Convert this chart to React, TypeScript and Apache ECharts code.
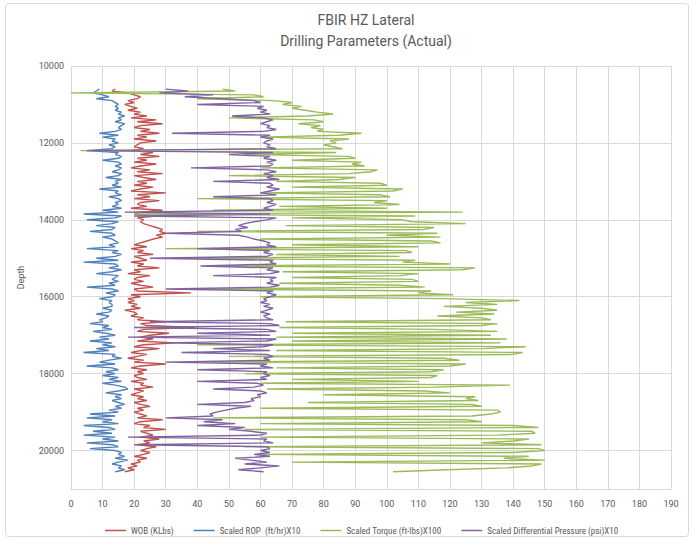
import React, { useEffect, useRef } from "react";
import * as echarts from "echarts";

const depths = [
  10600, 10650, 10700, 10750, 10800, 10850, 10900, 10950, 11000, 11050,
  11100, 11150, 11200, 11250, 11300, 11350, 11400, 11450, 11500, 11550,
  11600, 11650, 11700, 11750, 11800, 11850, 11900, 11950, 12000, 12050,
  12100, 12150, 12200, 12250, 12300, 12350, 12400, 12450, 12500, 12550,
  12600, 12650, 12700, 12750, 12800, 12850, 12900, 12950, 13000, 13050,
  13100, 13150, 13200, 13250, 13300, 13350, 13400, 13450, 13500, 13550,
  13600, 13650, 13700, 13750, 13800, 13850, 13900, 13950, 14000, 14050,
  14100, 14150, 14200, 14250, 14300, 14350, 14400, 14450, 14500, 14550,
  14600, 14650, 14700, 14750, 14800, 14850, 14900, 14950, 15000, 15050,
  15100, 15150, 15200, 15250, 15300, 15350, 15400, 15450, 15500, 15550,
  15600, 15650, 15700, 15750, 15800, 15850, 15900, 15950, 16000, 16050,
  16100, 16150, 16200, 16250, 16300, 16350, 16400, 16450, 16500, 16550,
  16600, 16650, 16700, 16750, 16800, 16850, 16900, 16950, 17000, 17050,
  17100, 17150, 17200, 17250, 17300, 17350, 17400, 17450, 17500, 17550,
  17600, 17650, 17700, 17750, 17800, 17850, 17900, 17950, 18000, 18050,
  18100, 18150, 18200, 18250, 18300, 18350, 18400, 18450, 18500, 18550,
  18600, 18650, 18700, 18750, 18800, 18850, 18900, 18950, 19000, 19050,
  19100, 19150, 19200, 19250, 19300, 19350, 19400, 19450, 19500, 19550,
  19600, 19650, 19700, 19750, 19800, 19850, 19900, 19950, 20000, 20050,
  20100, 20150, 20200, 20250, 20300, 20350, 20400, 20450, 20500, 20550,
];

const wob = [
  14, 13, 18, 20, 22, 21, 18, 20, 17, 19,
  21, 18, 22, 20, 24, 19, 27, 21, 29, 22,
  20, 25, 22, 28, 21, 24, 20, 27, 22, 21,
  20, 23, 19, 26, 22, 28, 21, 24, 20, 27,
  22, 19, 25, 21, 29, 20, 23, 27, 21, 24,
  20, 26, 22, 19, 30, 21, 25, 20, 28, 22,
  21, 24, 19, 29, 22, 20, 27, 21, 23, 22,
  23, 25, 27, 29, 28, 30, 27, 29, 26, 24,
  22, 20, 24, 19, 23, 21, 26, 20, 22, 24,
  19, 23, 21, 28, 20, 22, 18, 25, 21, 20,
  23, 19, 22, 26, 20, 21, 38, 19, 22, 18,
  20, 18, 21, 19, 22, 17, 20, 21, 19, 23,
  21, 30, 22, 24, 39, 23, 21, 31, 25, 22,
  26, 21, 33, 23, 20, 28, 22, 19, 24, 21,
  18, 23, 20, 30, 22, 19, 24, 21, 23, 20,
  21, 24, 19, 23, 22, 26, 20, 23, 21, 19,
  23, 21, 24, 20, 22, 25, 21, 23, 20, 22,
  24, 21, 29, 22, 20, 25, 23, 30, 22, 24,
  26, 22, 28, 23, 25, 21, 27, 24, 22, 25,
  23, 20, 24, 21, 22, 19, 21, 18, 20, 17,
];

const rop = [
  9, 8, 7, 10, 12, 8, 13, 14, 15, 14,
  15, 14, 16, 15, 17, 15, 16, 14, 17, 16,
  15, 16, 14, 9, 15, 10, 14, 13, 15, 12,
  14, 13, 5, 15, 14, 16, 15, 10, 15, 16,
  14, 16, 15, 13, 16, 15, 11, 16, 14, 15,
  13, 16, 9, 15, 14, 16, 12, 15, 16, 14,
  15, 13, 16, 10, 15, 4, 16, 14, 5, 15,
  13, 8, 14, 13, 6, 13, 14, 10, 13, 14,
  15, 12, 14, 5, 15, 13, 16, 14, 8, 15,
  4, 14, 15, 12, 16, 13, 8, 15, 14, 13,
  15, 12, 14, 5, 13, 15, 11, 14, 13, 9,
  13, 12, 13, 13, 10, 13, 12, 8, 12, 11,
  9, 10, 6, 12, 10, 13, 7, 11, 14, 9,
  12, 6, 13, 10, 14, 8, 12, 4, 14, 13,
  16, 12, 9, 14, 5, 13, 15, 11, 14, 10,
  15, 12, 16, 10, 14, 17, 18, 15, 11, 16,
  14, 16, 13, 15, 17, 14, 16, 12, 15, 6,
  14, 5, 13, 10, 15, 4, 12, 14, 7, 13,
  4, 14, 10, 15, 5, 13, 15, 6, 14, 16,
  15, 17, 14, 18, 15, 13, 16, 15, 17, 14,
];

const torque = [
  48, 52, 0, 58, 61, 40, 64, 70, 67, 73,
  70, 74, 78, 83, 75, 50, 77, 80, 72, 79,
  76, 80, 78, 92, 85, 60, 88, 82, 84, 80,
  83, 86, 3, 84, 55, 88, 90, 70, 92, 89,
  93, 60, 97, 95, 88, 50, 90, 85, 65, 98,
  100, 70, 105, 102, 60, 98, 101, 40, 100, 96,
  104, 66, 100, 45, 124, 20, 109, 70, 105, 108,
  125, 68, 115, 112, 40, 116, 100, 117, 60, 114,
  117, 70, 110, 30, 106, 108, 65, 104, 35, 109,
  105, 120, 45, 128, 124, 67, 110, 104, 70, 108,
  110, 66, 104, 112, 40, 114, 110, 121, 60, 118,
  142, 125, 135, 118, 130, 135, 122, 134, 116, 130,
  133, 68, 135, 130, 66, 115, 135, 70, 133, 65,
  138, 70, 136, 40, 144, 130, 65, 143, 140, 50,
  118, 123, 45, 125, 120, 65, 118, 114, 55, 116,
  114, 70, 110, 60, 139, 115, 62, 112, 120, 80,
  128, 125, 129, 75, 127, 130, 60, 135, 136, 133,
  127, 45, 125, 130, 60, 140, 148, 55, 146, 147,
  135, 60, 145, 140, 130, 149, 55, 148, 150, 140,
  60, 145, 137, 150, 70, 149, 146, 138, 119, 102,
];

const diffP = [
  30, 37, 28, 45, 36, 48, 58, 60, 40, 61,
  59, 62, 60, 63, 51, 61, 64, 62, 60, 63,
  62, 65, 61, 32, 63, 60, 64, 62, 61, 63,
  62, 65, 5, 64, 50, 63, 61, 65, 62, 64,
  63, 38, 62, 65, 61, 64, 62, 66, 45, 63,
  64, 62, 66, 63, 60, 65, 45, 63, 64, 62,
  65, 63, 61, 64, 17, 63, 20, 65, 62, 58,
  55, 53, 56, 52, 54, 30, 53, 56, 58, 61,
  63, 62, 65, 40, 63, 61, 64, 62, 25, 64,
  63, 65, 41, 64, 62, 66, 63, 45, 65, 63,
  64, 62, 66, 63, 30, 64, 62, 65, 63, 61,
  62, 60, 63, 61, 64, 62, 60, 63, 61, 62,
  64, 25, 63, 66, 20, 62, 65, 40, 63, 18,
  65, 62, 30, 64, 61, 45, 63, 35, 62, 64,
  61, 63, 30, 62, 60, 64, 40, 62, 61, 63,
  60, 62, 40, 59, 61, 58, 45, 60, 62, 59,
  60, 57, 58, 55, 40, 57, 52, 49, 46, 44,
  45, 30, 48, 42, 52, 40, 55, 50, 57, 62,
  60, 18, 62, 61, 64, 20, 62, 63, 60, 63,
  58, 63, 52, 57, 62, 55, 66, 60, 53, 61,
];

const seriesNames = [
  "WOB (KLbs)",
  "Scaled ROP  (ft/hr)X10",
  "Scaled Torque (ft-lbs)X100",
  "Scaled Differential Pressure (psi)X10",
];
const seriesColors = ["#C0504D", "#4F81BD", "#9BBB59", "#8064A2"];
const seriesValues = [wob, rop, torque, diffP];

const titleLines = ["FBIR HZ Lateral", "Drilling Parameters (Actual)"];
const FONT = "Roboto, 'Noto Sans', sans-serif";
const NARROW = "'Liberation Sans Narrow', 'Roboto Condensed', Roboto, sans-serif";
const GRAY = "#595959";

export default function App() {
  const ref = useRef<HTMLDivElement>(null);
  useEffect(() => {
    if (!ref.current) return;
    const chart = echarts.init(ref.current, undefined, { renderer: "svg" });
    chart.setOption({
      animation: false,
      backgroundColor: "#ffffff",
      textStyle: { fontFamily: FONT },
      graphic: [
        {
          type: "rect",
          shape: { x: 5.5, y: 3.5, width: 683, height: 533, r: 3 },
          style: { fill: "none", stroke: "#D9D9D9", lineWidth: 1 },
          silent: true,
        },
        {
          type: "text",
          x: 366,
          y: 20,
          style: {
            text: titleLines[0],
            fill: GRAY,
            font: `14px ${FONT}`,
            textAlign: "center",
            textVerticalAlign: "middle",
          },
        },
        {
          type: "text",
          x: 366,
          y: 41,
          style: {
            text: titleLines[1],
            fill: GRAY,
            font: `14px ${FONT}`,
            textAlign: "center",
            textVerticalAlign: "middle",
          },
        },
      ],
      grid: { left: 71, right: 22, top: 66, bottom: 50, containLabel: false },
      legend: {
        data: seriesNames,
        left: 100,
        top: 521,
        icon: "rect",
        itemWidth: 21,
        itemHeight: 1.5,
        itemGap: 20,
        textStyle: { color: GRAY, fontSize: 9, fontFamily: NARROW },
      },
      xAxis: {
        type: "value",
        min: 0,
        max: 190,
        interval: 10,
        axisLine: { show: true, lineStyle: { color: "#D9D9D9" } },
        axisTick: { show: false },
        axisLabel: { color: GRAY, fontSize: 9, margin: 10 },
        splitLine: { show: true, lineStyle: { color: "#D9D9D9" } },
      },
      yAxis: {
        type: "value",
        inverse: true,
        min: 10000,
        max: 21000,
        interval: 2000,
        name: "Depth",
        nameLocation: "middle",
        nameGap: 46,
        nameTextStyle: { color: GRAY, fontSize: 9 },
        axisLine: { show: false },
        axisTick: { show: false },
        axisLabel: {
          color: GRAY,
          fontSize: 9,
          margin: 7,
          formatter: (v: number) => (v % 2000 === 0 ? String(v) : ""),
        },
        splitLine: { show: true, lineStyle: { color: "#D9D9D9" } },
      },
      series: seriesNames.map((name, si) => ({
        name,
        type: "line",
        showSymbol: false,
        symbol: "none",
        color: seriesColors[si],
        lineStyle: { width: 1.4, color: seriesColors[si] },
        data: depths.map((d, i) => [seriesValues[si][i], d]),
        z: 2 + si,
      })),
    });
    return () => chart.dispose();
  }, []);
  return (
    <div
      ref={ref}
      style={{ position: "fixed", left: 0, top: 0, width: 693, height: 539 }}
    />
  );
}
